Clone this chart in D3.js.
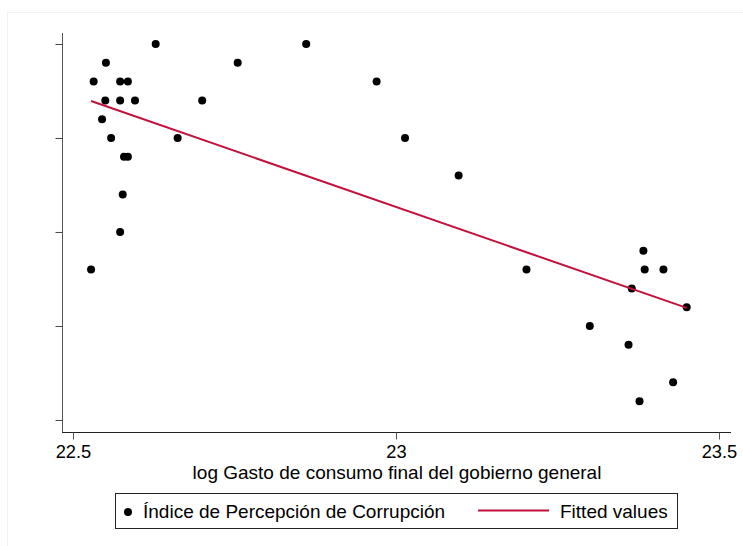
<!DOCTYPE html>
<html lang="es">
<head>
<meta charset="UTF-8">
<script src="https://cdnjs.cloudflare.com/ajax/libs/d3/7.8.5/d3.min.js"></script>
<style>
  body { margin: 0; background: #fff; }
  svg { display: block; font-family: "Liberation Sans", Arial, sans-serif; }
</style>
</head>
<body>
<svg id="chart" width="743" height="546"></svg>
<script>
// log gasto de consumo final del gobierno general (x) vs indice de percepcion de corrupcion (y)
var gasto = [22.528, 22.532, 22.551, 22.550, 22.545, 22.559, 22.573, 22.585,
             22.573, 22.596, 22.579, 22.585, 22.577, 22.573, 22.628, 22.662,
             22.700, 22.755, 22.861, 22.970, 23.014, 23.097, 23.202, 23.300,
             23.360, 23.365, 23.383, 23.385, 23.414, 23.429, 23.377, 23.450];
var ipc   = [28, 38, 39, 37, 36, 35, 38, 38,
             37, 37, 34, 34, 32, 30, 40, 35,
             37, 39, 40, 38, 35, 33, 28, 25,
             24, 27, 29, 28, 28, 22, 21, 26];

// fitted values (endpoints of the linear fit)
var fitX = [22.528, 23.450];
var fitY = [36.97, 25.96];

var xTicks = [22.5, 23, 23.5];
var yTicks = [20, 25, 30, 35, 40];

var xTitle = "log Gasto de consumo final del gobierno general";
var legendLabels = ["Índice de Percepción de Corrupción", "Fitted values"];

var red = "#c4103a";

var svg = d3.select("#chart");

// faint outer graph region
svg.append("rect")
  .attr("x", 7.5).attr("y", 12.5)
  .attr("width", 760).attr("height", 560)
  .attr("fill", "none")
  .attr("stroke", "#eef3f3");

var x = d3.scaleLinear().domain([22.483, 23.5186]).range([62, 731]);
var y = d3.scaleLinear().domain([19.36, 40.585]).range([432, 33]);

// axes
var xAxis = d3.axisBottom(x).tickValues(xTicks).tickSize(7).tickPadding(6)
  .tickFormat(d3.format("~g"));
var gx = svg.append("g").attr("transform", "translate(0,432.5)").call(xAxis);
gx.select(".domain").attr("d", "M" + x.range()[0] + ",0H" + x.range()[1]).attr("stroke", "#222");
gx.selectAll(".tick line").attr("stroke", "#555");
gx.selectAll("text").attr("font-size", "18.3px").attr("fill", "#000")
  .attr("font-family", "Liberation Sans, Arial, sans-serif");

var yAxis = d3.axisLeft(y).tickValues(yTicks).tickSize(7).tickFormat("");
var gy = svg.append("g").attr("transform", "translate(62.5,0)").call(yAxis);
gy.select(".domain").attr("d", "M0," + y.range()[1] + "V" + y.range()[0]).attr("stroke", "#555");
gy.selectAll(".tick line").attr("stroke", "#444");

svg.append("text")
  .attr("x", 397).attr("y", 479)
  .attr("text-anchor", "middle")
  .attr("font-size", "19px")
  .text(xTitle);

// scatter
svg.append("g").selectAll("circle")
  .data(d3.zip(gasto, ipc))
  .join("circle")
  .attr("cx", d => x(d[0]))
  .attr("cy", d => y(d[1]))
  .attr("r", 4)
  .attr("fill", "#000");

// fitted line
svg.append("path")
  .datum(d3.zip(fitX, fitY))
  .attr("d", d3.line().x(d => x(d[0])).y(d => y(d[1])))
  .attr("fill", "none")
  .attr("stroke", red)
  .attr("stroke-width", 2);

// legend
var lg = svg.append("g");
lg.append("rect")
  .attr("x", 115.5).attr("y", 493.5)
  .attr("width", 562).attr("height", 35)
  .attr("fill", "#fff").attr("stroke", "#222");
lg.append("circle").attr("cx", 128).attr("cy", 512).attr("r", 4).attr("fill", "#000");
lg.append("text").attr("x", 143).attr("y", 518).attr("font-size", "19px").text(legendLabels[0]);
lg.append("line").attr("x1", 478).attr("x2", 549).attr("y1", 510.5).attr("y2", 510.5)
  .attr("stroke", red).attr("stroke-width", 2);
lg.append("text").attr("x", 560).attr("y", 518).attr("font-size", "19px").text(legendLabels[1]);
</script>
</body>
</html>
